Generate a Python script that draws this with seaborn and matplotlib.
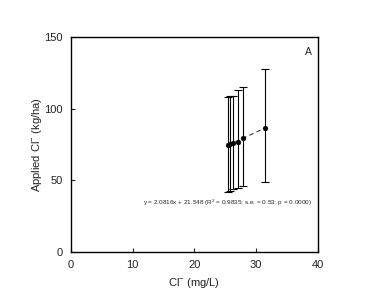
import numpy as np
import pandas as pd
import matplotlib
matplotlib.use("Agg")
import matplotlib.pyplot as plt
import seaborn as sns

# Data
cl_conc = [25.5, 25.8, 26.2, 27.1, 27.9, 31.4]
applied_cl = [74.7, 75.2, 76.3, 77.0, 79.4, 86.7]
err_low = [32.6, 32.4, 32.6, 32.6, 33.4, 37.7]
err_high = [33.7, 33.7, 32.8, 36.0, 36.0, 40.8]
fit_text = "y = 2.0816x + 21.548 (R$^2$ = 0.9835; s.e. = 0.53; p = 0.0000)"

df = pd.DataFrame({"cl": cl_conc, "applied": applied_cl})

sns.set_style("white")
plt.rcParams["font.family"] = ["Liberation Sans", "DejaVu Sans"]
plt.rcParams["mathtext.fontset"] = "custom"
plt.rcParams["mathtext.rm"] = "Liberation Sans"

fig = plt.figure(figsize=(3.79, 2.99), dpi=100)
ax = fig.add_axes([0.187, 0.157, 0.652, 0.719])

ax.errorbar(df["cl"], df["applied"], yerr=[err_low, err_high], fmt="none",
            ecolor="black", elinewidth=0.8, capsize=3, capthick=0.8)
sns.regplot(data=df, x="cl", y="applied", ci=None, scatter=False, ax=ax,
            line_kws={"color": "#333333", "linestyle": (0, (4, 3)), "linewidth": 0.8})
sns.scatterplot(data=df, x="cl", y="applied", ax=ax, color="black",
                s=12, edgecolor="black", linewidth=0.3, zorder=5)

ax.set_xlim(0, 40)
ax.set_ylim(0, 150)
ax.set_xticks([0, 10, 20, 30, 40])
ax.set_yticks([0, 50, 100, 150])
ax.tick_params(direction="in", length=3, width=0.8, labelsize=8, pad=6,
               bottom=True, left=True, labelcolor="#222222")
for s in ax.spines.values():
    s.set_color("black")
    s.set_linewidth(1.0)

ax.set_xlabel("Cl$^{-}$ (mg/L)", fontsize=8, labelpad=4, color="#222222")
ax.set_ylabel("Applied Cl$^{-}$ (kg/ha)", fontsize=8, labelpad=0, color="#222222")

ax.text(25.3, 34, fit_text, fontsize=4.6, ha="center", va="center")
ax.text(0.975, 0.93, "A", transform=ax.transAxes, fontsize=7.5, ha="right", va="center")

fig.savefig("out.png", dpi=100)
